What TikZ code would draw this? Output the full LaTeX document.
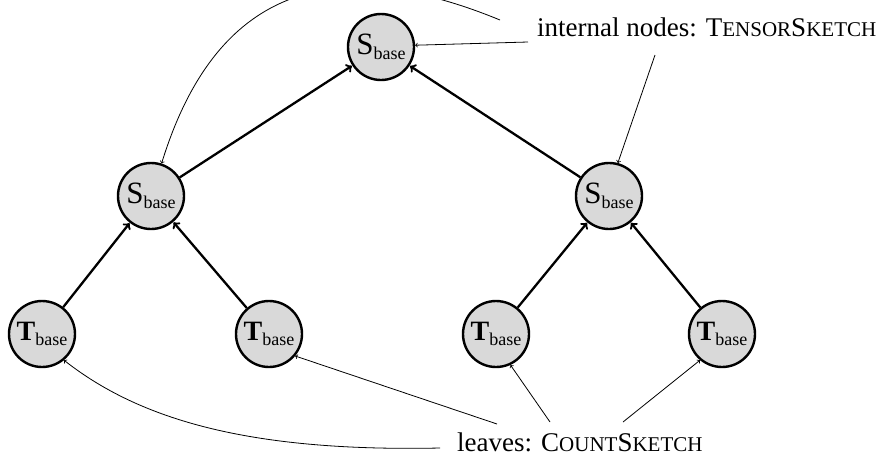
\documentclass[tikz,border=0pt]{standalone}
\usepackage{fontspec}
\setmainfont{Liberation Serif}
\begin{document}
\begin{tikzpicture}[x=1pt,y=-1pt,
  tnode/.style={circle,draw=black,line width=2.4pt,fill=black!15,minimum size=66pt,inner sep=0pt},
  tedge/.style={->,line width=2.3pt,shorten >=0.5pt},
  note/.style={->,line width=0.8pt},
  lbl/.style={inner sep=0pt,font=\fontsize{27}{30}\selectfont}]
\useasboundingbox (0,0) rectangle (878,467);
\newcommand{\Sb}{{\fontsize{31}{34}\selectfont$\mathrm{S}$}{\fontsize{18}{20}\selectfont\raisebox{-5pt}{base}}}
\newcommand{\Tb}{{\fontsize{28}{32}\selectfont$\mathbf{T}$}{\fontsize{18}{20}\selectfont\raisebox{-5pt}{base}}}
\newcommand{\smc}[1]{{\fontsize{21}{24}\selectfont #1}}
\node[tnode] (s0) at (381,47) {\Sb};
\node[tnode] (s1) at (151,196) {\Sb};
\node[tnode] (s2) at (609,196) {\Sb};
\node[tnode] (t1) at (42,334) {\Tb};
\node[tnode] (t2) at (269,334) {\Tb};
\node[tnode] (t3) at (496,334) {\Tb};
\node[tnode] (t4) at (722,334) {\Tb};
\draw[tedge] (s1) -- (s0);
\draw[tedge] (s2) -- (s0);
\draw[tedge] (t1) -- (s1);
\draw[tedge] (t2) -- (s1);
\draw[tedge] (t3) -- (s2);
\draw[tedge] (t4) -- (s2);
\node[lbl,anchor=west] (li) at (537,27) {internal nodes: T\smc{ENSOR}S\smc{KETCH}};
\node[lbl,anchor=west] (ll) at (457,442) {leaves: C\smc{OUNT}S\smc{KETCH}};
\coordinate (a1) at (500,20);
\coordinate (a2) at (528,42);
\coordinate (a3) at (655,55);
\coordinate (b1) at (440,448);
\coordinate (b2) at (497,424);
\coordinate (b3) at (550,422);
\coordinate (b4) at (623,422);
\draw[note] (a1) .. controls (330,-50) and (215,-10) .. (s1.72);
\draw[note] (a2) -- (s0.3);
\draw[note] (a3) -- (s2.75);
\draw[note] (b1) .. controls (250,452) and (140,420) .. (t1.-50);
\draw[note] (b2) -- (t2.-40);
\draw[note] (b3) -- (t3.-65);
\draw[note] (b4) -- (t4.-130);
\end{tikzpicture}
\end{document}
